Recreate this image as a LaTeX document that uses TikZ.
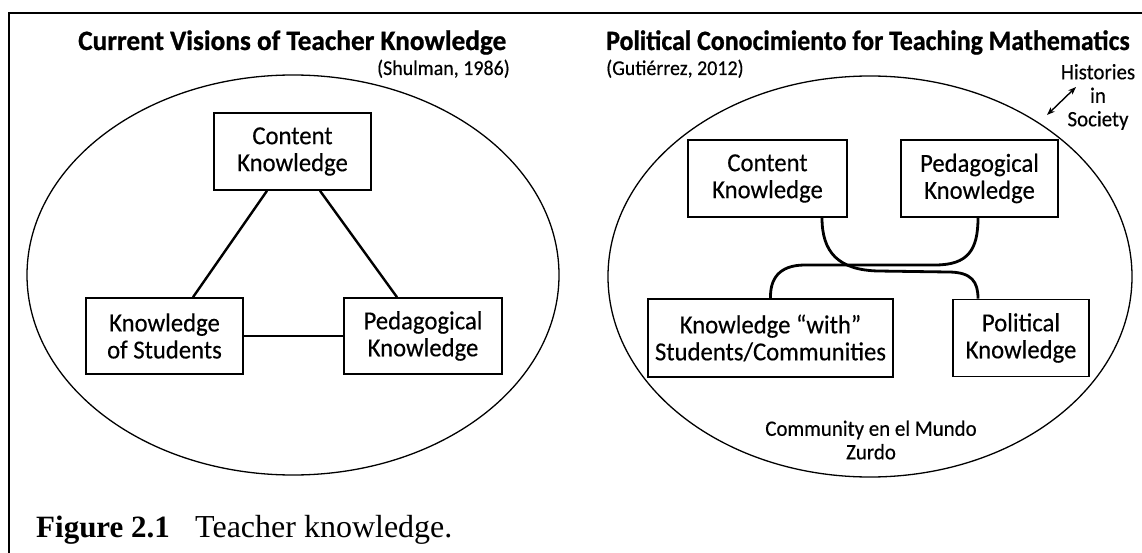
\documentclass[tikz,border=0pt]{standalone}
\usepackage{fontspec}
\setmainfont[FakeBold=0.35,FakeStretch=0.95]{Carlito}
\newfontfamily\titlefont[FakeBold=0.8]{Carlito}
\newfontfamily\capserif{Liberation Serif}
\usetikzlibrary{arrows.meta,shapes.geometric}
\begin{document}
\begin{tikzpicture}[x=1pt,y=-1pt,
  box/.style={draw, line width=1.6pt, align=center, inner sep=0pt, rectangle,
    font=\fontsize{26}{27}\selectfont},
  link/.style={line width=2.8pt},
  ring/.style={draw, ellipse, line width=1.3pt, inner sep=0pt},
  frameline/.style={line width=2pt},
  ttl/.style={inner sep=0pt, font=\titlefont\bfseries\fontsize{28}{30}\selectfont},
  cite/.style={inner sep=0pt, font=\fontsize{21}{22}\selectfont},
  lbl/.style={inner sep=0pt, align=center, font=\fontsize{22}{23.5}\selectfont}]
\useasboundingbox (0,0) rectangle (1142,553);
\fill[white] (0,0) rectangle (1142,553);
% frame
\coordinate (fr1) at (1142,13);
\coordinate (fr2) at (9,13);
\coordinate (fr3) at (9,553);
\draw[frameline] (fr1) -- (fr2) -- (fr3);

% ---------------- left panel
\node[ttl, anchor=base west] (t1) at (78,50) {\scalebox{0.975}[1]{Current Visions of Teacher Knowledge}};
\node[cite, anchor=base east] (c1) at (510,75) {(Shulman, 1986)};
\node[ring, minimum width=532pt, minimum height=400pt] (E1) at (293,275) {};

\node[box, minimum width=157pt, minimum height=77pt] (CK) at (292.5,151.5) {Content\\Knowledge};
\node[box, minimum width=157pt, minimum height=76pt] (KS) at (164.5,336) {Knowledge\\of Students};
\node[box, minimum width=158pt, minimum height=76pt] (PK) at (423,336) {Pedagogical\\Knowledge};

\draw[link, line width=2.4pt] ([xshift=-25.5pt]CK.south) -- ([xshift=28.5pt]KS.north);
\draw[link, line width=2.4pt] ([xshift=27.5pt]CK.south) -- ([xshift=-26pt]PK.north);
\draw[link, line width=2.4pt] (KS.east) -- (PK.west);

% ---------------- right panel
\node[ttl, anchor=base west] (t2) at (606,50) {\scalebox{0.925}[1]{Political Conocimiento for Teaching Mathematics}};
\node[cite, anchor=base west] (c2) at (606,75) {(Gutiérrez, 2012)};
\node[lbl] (hist) at (1098,97) {Histories\\in\\Society};
\coordinate (h1) at (1047,115);
\coordinate (h2) at (1076,87);
\draw[{Stealth[length=8pt,width=6pt]}-{Stealth[length=8pt,width=6pt]}, line width=1.4pt] (h1) -- (h2);

\node[ring, minimum width=524pt, minimum height=401pt] (E2) at (870,276.5) {};

\node[box, minimum width=159pt, minimum height=77pt] (CK2) at (767.5,178.5) {Content\\Knowledge};
\node[box, minimum width=157pt, minimum height=77pt] (PK2) at (979.5,178.5) {Pedagogical\\Knowledge};
\node[box, minimum width=245pt, minimum height=78pt] (KW) at (770.5,338) {Knowledge ``with''\\Students/Communities};
\node[box, minimum width=136pt, minimum height=77pt] (PO) at (1021,338) {Political\\Knowledge};

\draw[link] ([xshift=54.5pt]CK2.south) .. controls (822,252) and (838,270) .. (878,271)
  -- (948,272) .. controls (972,272) and (978,282) .. ([xshift=-43pt]PO.north);
\draw[link] ([xshift=-1.5pt]PK2.south) .. controls (978,250) and (968,265) .. (935,265)
  -- (805,265) .. controls (778,265) and (770,280) .. (KW.north);

\node[lbl] (comm) at (871,440) {Community en el Mundo\\Zurdo};

% caption
\node[inner sep=0pt, anchor=base west, font=\capserif\bfseries\fontsize{31}{33}\selectfont] (cap1) at (36,537) {Figure 2.1};
\node[inner sep=0pt, anchor=base west, font=\capserif\fontsize{32}{33}\selectfont] (cap2) at (195,537) {Teacher knowledge.};
\end{tikzpicture}
\end{document}
